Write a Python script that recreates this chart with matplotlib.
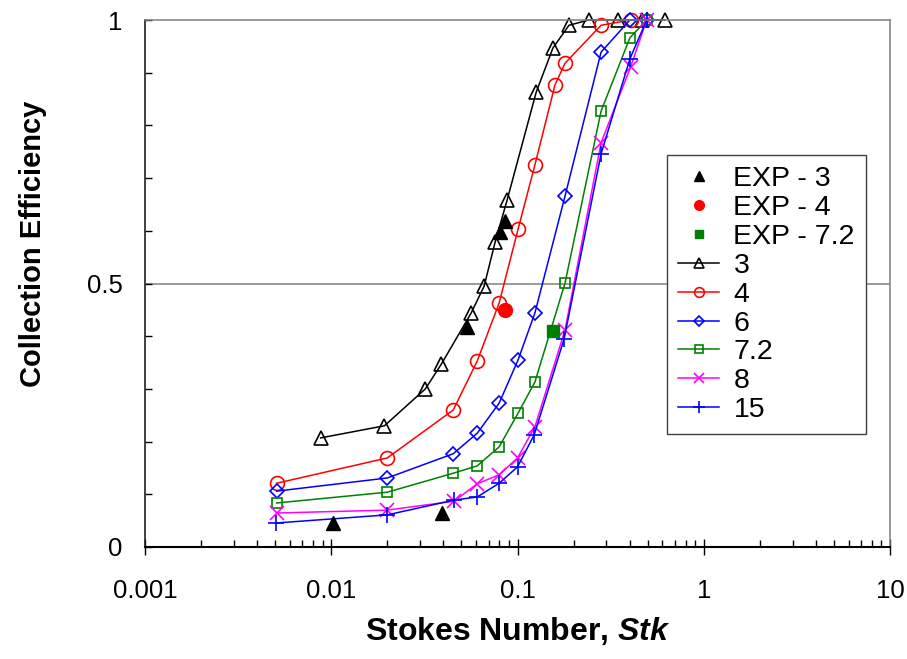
import matplotlib
matplotlib.use("Agg")
import matplotlib.pyplot as plt
from matplotlib.ticker import FixedLocator, NullFormatter, LogLocator

plt.rcParams['font.family'] = ['Liberation Sans', 'DejaVu Sans']
plt.rcParams['mathtext.fontset'] = 'custom'
plt.rcParams['mathtext.bfit'] = 'Liberation Sans:bold:italic'
plt.rcParams['mathtext.bf'] = 'Liberation Sans:bold'
plt.rcParams['mathtext.it'] = 'Liberation Sans:italic'
plt.rcParams['mathtext.rm'] = 'Liberation Sans'

# ---- data ----
stk_3 = [0.00877, 0.0193, 0.032, 0.039, 0.0564, 0.0662, 0.0759, 0.0879, 0.126, 0.155, 0.189, 0.241, 0.346, 0.465, 0.618]
eff_3 = [0.207, 0.230, 0.300, 0.347, 0.444, 0.495, 0.579, 0.658, 0.863, 0.947, 0.99, 1.0, 1.0, 1.0, 1.0]

stk_4 = [0.00509, 0.0200, 0.0452, 0.0608, 0.0797, 0.1007, 0.124, 0.159, 0.180, 0.281, 0.405]
eff_4 = [0.121, 0.169, 0.260, 0.353, 0.463, 0.603, 0.725, 0.877, 0.918, 0.99, 1.0]

stk_6 = [0.00509, 0.0200, 0.0452, 0.0608, 0.0797, 0.1007, 0.124, 0.180, 0.281, 0.401, 0.494]
eff_6 = [0.106, 0.131, 0.177, 0.216, 0.273, 0.355, 0.444, 0.666, 0.939, 1.0, 1.0]

stk_72 = [0.00509, 0.0200, 0.0452, 0.0608, 0.0797, 0.1007, 0.124, 0.180, 0.281, 0.401, 0.494]
eff_72 = [0.0835, 0.104, 0.140, 0.154, 0.190, 0.254, 0.313, 0.501, 0.827, 0.966, 1.0]

stk_8 = [0.00509, 0.0200, 0.0457, 0.0608, 0.0797, 0.100, 0.124, 0.180, 0.281, 0.405, 0.494]
eff_8 = [0.0645, 0.070, 0.087, 0.120, 0.137, 0.169, 0.228, 0.412, 0.767, 0.911, 1.0]

stk_15 = [0.00504, 0.0200, 0.0457, 0.0608, 0.0797, 0.100, 0.123, 0.178, 0.281, 0.401, 0.494]
eff_15 = [0.0455, 0.061, 0.089, 0.095, 0.121, 0.152, 0.213, 0.395, 0.746, 0.926, 1.0]

exp3_stk = [0.0102, 0.0395, 0.0537, 0.0807, 0.0859]
exp3_eff = [0.0455, 0.0645, 0.417, 0.598, 0.619]
exp4_stk = [0.0859]
exp4_eff = [0.450]
exp72_stk = [0.155]
exp72_eff = [0.410]

x_ticks = [0.001, 0.01, 0.1, 1, 10]
x_ticklabels = ['0.001', '0.01', '0.1', '1', '10']
y_ticks = [0, 0.5, 1]
y_ticklabels = ['0', '0.5', '1']

# ---- figure ----
fig = plt.figure(figsize=(9.07, 6.59), dpi=100)
ax = fig.add_axes([145/907, 1-547/659, 745/907, 527/659])
ax.set_xscale('log')
ax.set_xlim(0.001, 10)
ax.set_ylim(0, 1)

ax.axhline(0.5, color='#808080', lw=1.1, zorder=0)

lw = 1.1
kw = dict(clip_on=False, lw=lw)
ax.plot(exp3_stk, exp3_eff, ls='none', marker='^', ms=10, color='black', label='EXP - 3', clip_on=False, zorder=5)
ax.plot(exp4_stk, exp4_eff, ls='none', marker='o', ms=10, color='red', label='EXP - 4', clip_on=False, zorder=5)
ax.plot(exp72_stk, exp72_eff, ls='none', marker='s', ms=8, color='#008000', label='EXP - 7.2', clip_on=False, zorder=5)

ax.plot(stk_3, eff_3, color='black', marker='^', ms=10, mfc='none', mew=1.2, label='3', **kw)
ax.plot(stk_4, eff_4, color='red', marker='o', ms=10, mfc='none', mew=1.2, label='4', **kw)
ax.plot(stk_6, eff_6, color='blue', marker='D', ms=7, mfc='none', mew=1.2, label='6', **kw)
ax.plot(stk_72, eff_72, color='#008000', marker='s', ms=7.5, mfc='none', mew=1.2, label='7.2', **kw)
ax.plot(stk_8, eff_8, color='#ff00ff', marker='x', ms=10, mew=1.2, label='8', **kw)
ax.plot(stk_15, eff_15, color='blue', marker='+', ms=12, mew=1.2, label='15', **kw)

# spines
for s in ['top', 'right']:
    ax.spines[s].set_color('#808080')
    ax.spines[s].set_linewidth(1.1)
ax.spines['left'].set_color('#202020')
ax.spines['left'].set_linewidth(1.2)
ax.spines['bottom'].set_color('black')
ax.spines['bottom'].set_linewidth(1.5)

# ticks
ax.xaxis.set_major_locator(FixedLocator(x_ticks))
ax.set_xticklabels(x_ticklabels)
ax.xaxis.set_minor_locator(LogLocator(base=10, subs=range(2, 10), numticks=20))
ax.xaxis.set_minor_formatter(NullFormatter())
ax.tick_params(axis='x', which='major', direction='inout', length=12, width=1, labelsize=18.5, pad=17, top=False)
ax.tick_params(axis='x', which='minor', direction='in', length=5, width=1, top=False)

ax.set_yticks(y_ticks)
ax.set_yticklabels(y_ticklabels)
ax.yaxis.set_minor_locator(FixedLocator([0.1, 0.2, 0.3, 0.4, 0.6, 0.7, 0.8, 0.9]))
ax.tick_params(axis='y', which='major', direction='in', length=5, width=1, labelsize=18.5, pad=16, right=False)
ax.tick_params(axis='y', which='minor', direction='in', length=5, width=1, right=False)

ax.set_xlabel(r'Stokes Number, $\mathbfit{Stk}$', fontsize=23, fontweight='bold', labelpad=9)
ax.set_ylabel('Collection Efficiency', fontsize=21, fontweight='bold')
ax.yaxis.set_label_coords(-0.132, 0.575)

leg = ax.legend(loc='upper left', bbox_to_anchor=(0.70, 0.744), borderaxespad=0,
                fontsize=20.5, frameon=True, fancybox=False, framealpha=1,
                edgecolor='#404040', handlelength=1.45, handletextpad=0.5,
                labelspacing=0.1, markerscale=0.7, borderpad=0.4)
leg.get_frame().set_linewidth(1.0)

fig.savefig('out.png', dpi=100)
